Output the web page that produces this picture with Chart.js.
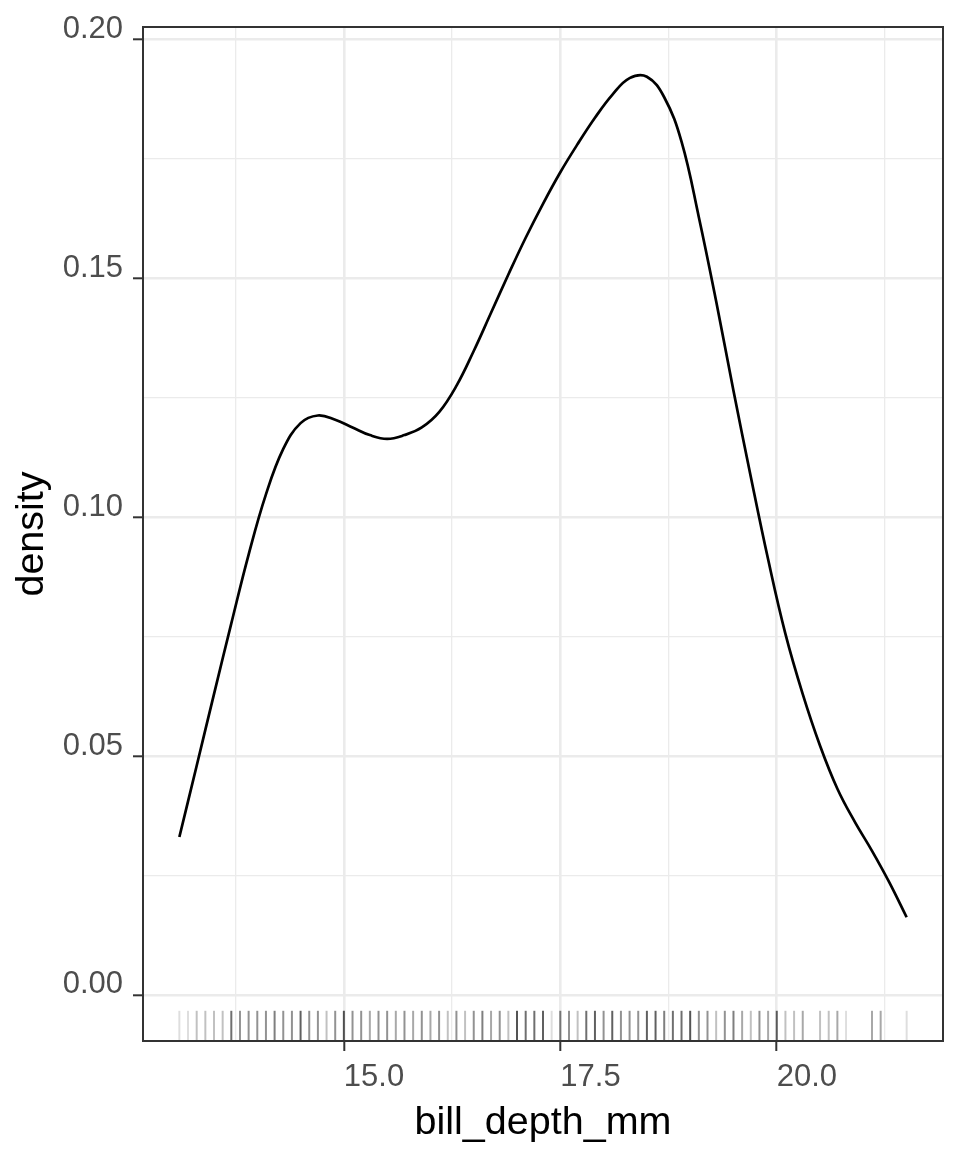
<!DOCTYPE html>
<html>
<head>
<meta charset="utf-8">
<script src="https://cdn.jsdelivr.net/npm/chart.js@4.4.1/dist/chart.umd.min.js"></script>
<style>
  html, body { margin: 0; padding: 0; background: #fff; }
</style>
</head>
<body>
<canvas id="chart" width="960" height="1152"></canvas>
<script>
// density curve, every 0.2 mm
const densityX = [13.1, 13.3, 13.5, 13.7, 13.9, 14.1, 14.3, 14.5, 14.7, 14.9, 15.1, 15.3, 15.5, 15.7, 15.9,
  16.1, 16.3, 16.5, 16.7, 16.9, 17.1, 17.3, 17.5, 17.7, 17.9, 18.1, 18.3, 18.5, 18.7, 18.9,
  19.1, 19.3, 19.5, 19.7, 19.9, 20.1, 20.3, 20.5, 20.7, 20.9, 21.1, 21.3, 21.5];
const densityY = [0.0331, 0.0480, 0.0630, 0.0778, 0.0922, 0.1048, 0.1143, 0.1197, 0.1213, 0.1204, 0.1188, 0.1172, 0.1164, 0.1172, 0.1188,
  0.1220, 0.1275, 0.1348, 0.1428, 0.1508, 0.1585, 0.1656, 0.1722, 0.1781, 0.1836, 0.1884, 0.1919, 0.1922, 0.1879, 0.1786,
  0.1628, 0.1452, 0.1265, 0.1085, 0.0912, 0.0756, 0.0630, 0.0522, 0.0432, 0.0363, 0.0302, 0.0236, 0.0163];

// rug: measured values and how many birds share each one (guessed from the shade)
const rugValues = [13.1, 13.2, 13.3, 13.4, 13.5, 13.6, 13.7, 13.8, 13.9, 14.0, 14.1, 14.2, 14.3, 14.4, 14.5, 14.6, 14.7, 14.8, 14.9, 15.0,
  15.1, 15.2, 15.3, 15.4, 15.5, 15.6, 15.7, 15.8, 15.9, 16.0, 16.1, 16.2, 16.3, 16.4, 16.5, 16.6, 16.7, 16.8, 16.9, 17.0,
  17.1, 17.2, 17.3, 17.4, 17.5, 17.6, 17.7, 17.8, 17.9, 18.0, 18.1, 18.2, 18.3, 18.4, 18.5, 18.6, 18.7, 18.8, 18.9, 19.0,
  19.1, 19.2, 19.3, 19.4, 19.5, 19.6, 19.7, 19.8, 19.9, 20.0, 20.1, 20.2, 20.3, 20.5, 20.6, 20.7, 20.8, 21.1, 21.2, 21.5];
const rugCounts = [1, 1, 2, 2, 2, 2, 6, 4, 4, 4, 4, 5, 4, 4, 7, 4, 4, 2, 4, 8,
  4, 4, 3, 4, 4, 3, 4, 3, 4, 3, 4, 2, 4, 2, 4, 5, 3, 4, 2, 8,
  6, 6, 7, 1, 5, 4, 2, 6, 7, 4, 7, 4, 4, 4, 7, 7, 5, 6, 6, 8,
  4, 4, 2, 4, 5, 3, 2, 4, 3, 7, 2, 2, 3, 2, 2, 3, 1, 3, 3, 1];

// axes
const xRange = [12.68, 21.92];
const yRange = [-0.0096, 0.2026];
const xTicks = [13.75, 15, 16.25, 17.5, 18.75, 20, 21.25];
const xLabels = ['15.0', '17.5', '20.0'];
const yTicks = [0, 0.025, 0.05, 0.075, 0.1, 0.125, 0.15, 0.175, 0.2];
const yLabels = ['0.00', '0.05', '0.10', '0.15', '0.20'];

const FONT = 'Liberation Sans, Arial, Helvetica, sans-serif';
const isMajorX = v => xLabels.includes(v.toFixed(1));
const isMajorY = v => yLabels.includes(v.toFixed(2));

// rug sits in the bottom 3% of the panel
const rugY = yRange[0] + (yRange[1] - yRange[0]) * 0.015;
const rugColors = rugCounts.map(n => 'rgba(0,0,0,' + (1 - Math.pow(0.87, n)).toFixed(3) + ')');

// panel border drawn on top like ggplot
const panelBorder = {
  id: 'panelBorder',
  afterDatasetsDraw(chart) {
    const { ctx, chartArea: a } = chart;
    ctx.save();
    ctx.strokeStyle = '#333333';
    ctx.lineWidth = 2;
    ctx.strokeRect(a.left, a.top, a.right - a.left, a.bottom - a.top);
    ctx.restore();
  }
};

new Chart(document.getElementById('chart'), {
  type: 'line',
  data: {
    datasets: [
      {
        data: densityX.map((x, i) => ({ x, y: densityY[i] })),
        borderColor: '#000000',
        borderWidth: 2.7,
        pointRadius: 0,
        fill: false,
        tension: 0.4
      },
      {
        type: 'scatter',
        data: rugValues.map(x => ({ x, y: rugY })),
        pointStyle: 'line',
        rotation: 90,
        pointRadius: 15,
        pointBorderWidth: 2,
        pointBorderColor: rugColors,
        pointBackgroundColor: rugColors,
        showLine: false
      }
    ]
  },
  options: {
    responsive: false,
    animation: false,
    layout: { padding: { top: 27, right: 14, left: 0, bottom: 0 } },
    plugins: { legend: { display: false }, tooltip: { enabled: false } },
    scales: {
      x: {
        type: 'linear',
        min: xRange[0],
        max: xRange[1],
        afterBuildTicks: s => { s.ticks = xTicks.map(v => ({ value: v })); },
        afterFit: s => { s.height = 111; s.paddingLeft = 0; s.paddingRight = 0; },
        border: { display: false },
        grid: {
          color: '#ebebeb',
          lineWidth: c => (c.tick && isMajorX(c.tick.value) ? 2.6 : 1.3),
          tickColor: c => (c.tick && isMajorX(c.tick.value) ? '#333333' : 'rgba(0,0,0,0)'),
          tickWidth: 2,
          tickLength: 10
        },
        ticks: {
          autoSkip: false,
          maxRotation: 0,
          align: 'start',
          padding: 8,
          color: '#4d4d4d',
          font: { family: FONT, size: 31 },
          callback: v => (isMajorX(v) ? v.toFixed(1) : '')
        },
        title: {
          display: true,
          text: 'bill_depth_mm',
          color: '#000000',
          font: { family: FONT, size: 39.5 },
          padding: { top: 0, bottom: 5 }
        }
      },
      y: {
        type: 'linear',
        min: yRange[0],
        max: yRange[1],
        afterBuildTicks: s => { s.ticks = yTicks.map(v => ({ value: v })); },
        afterFit: s => { s.width = 143; s.paddingTop = 0; s.paddingBottom = 0; },
        border: { display: false },
        grid: {
          color: '#ebebeb',
          lineWidth: c => (c.tick && isMajorY(c.tick.value) ? 2.6 : 1.3),
          tickColor: c => (c.tick && isMajorY(c.tick.value) ? '#333333' : 'rgba(0,0,0,0)'),
          tickWidth: 2,
          tickLength: 10
        },
        ticks: {
          autoSkip: false,
          align: 'end',
          padding: 10,
          color: '#4d4d4d',
          // a blank first line with a short line height pushes the label down so
          // the digits sit on the tick, as in the reference
          font: { family: FONT, size: 31, lineHeight: 0.34 },
          callback: v => (isMajorY(v) ? ['', v.toFixed(2)] : '')
        },
        title: {
          display: true,
          text: 'density',
          color: '#000000',
          font: { family: FONT, size: 39.5 },
          padding: { top: 8, bottom: 0 }
        }
      }
    }
  },
  plugins: [panelBorder]
});
</script>
</body>
</html>
